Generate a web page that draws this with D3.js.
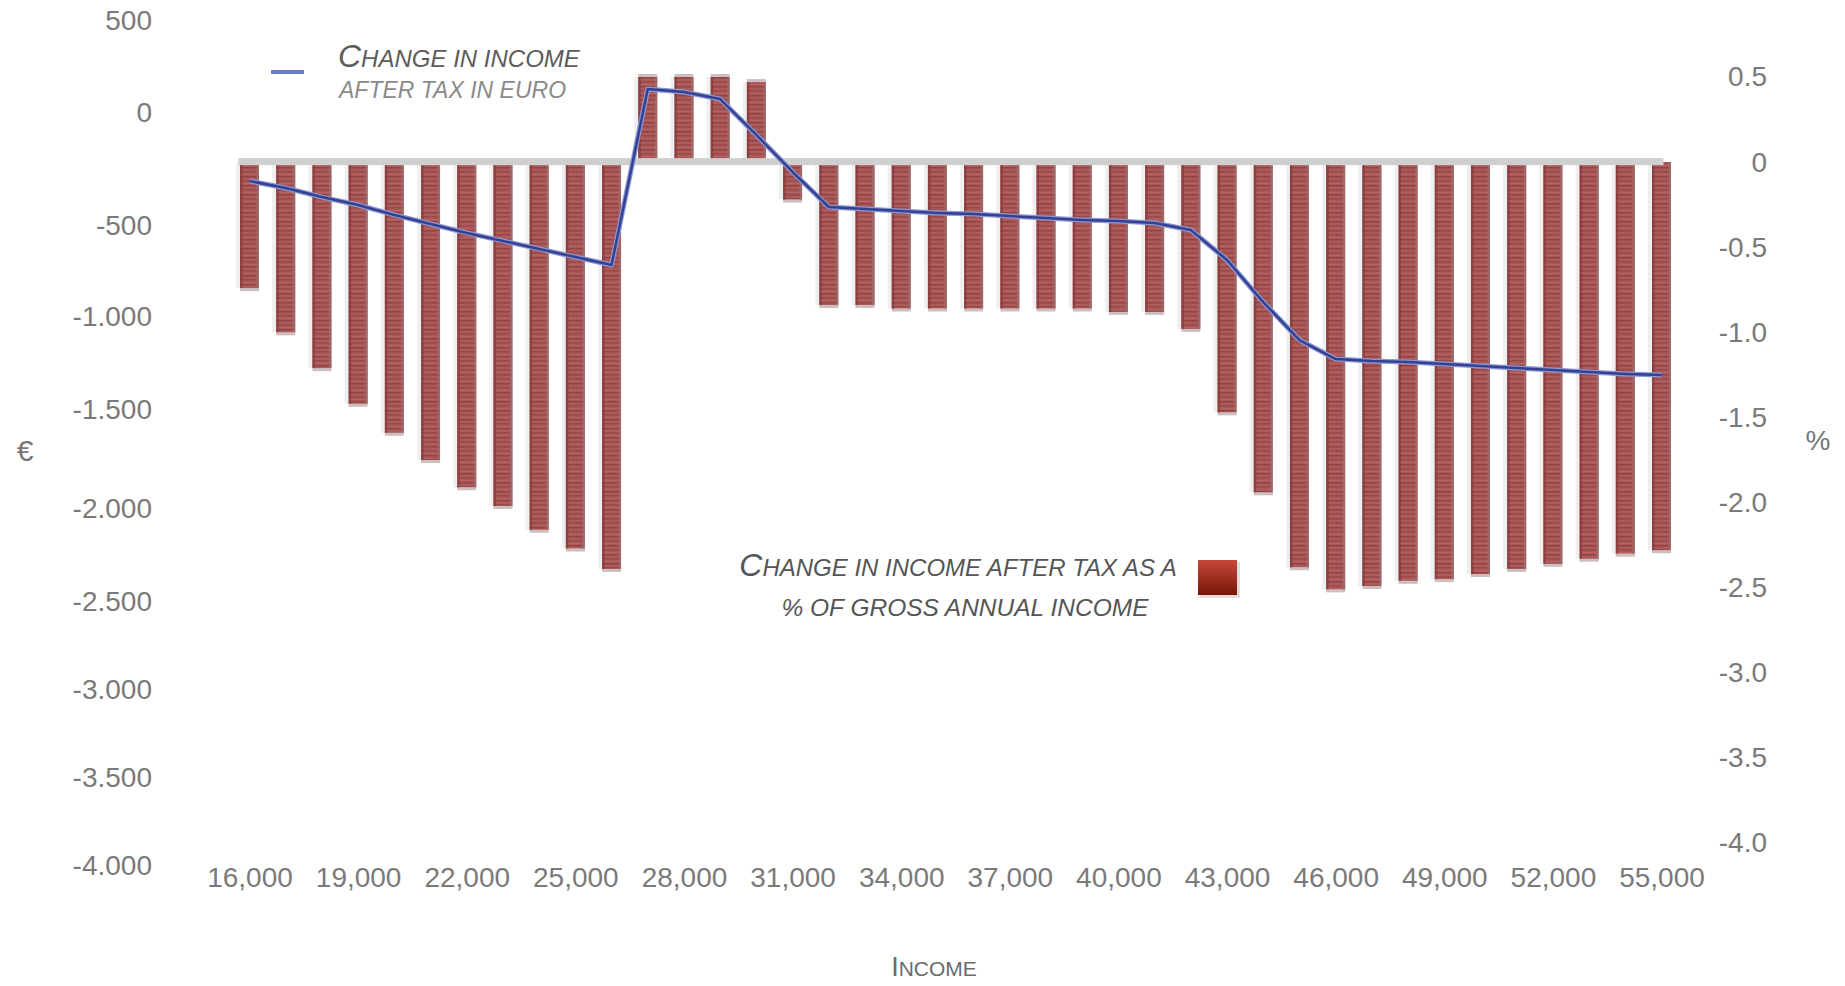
<!DOCTYPE html>
<html><head><meta charset="utf-8">
<script src="https://cdn.jsdelivr.net/npm/d3@7"></script>
<style>
html,body{margin:0;padding:0;background:#fff;}
svg{display:block;font-family:"Liberation Sans",Arial,sans-serif;}
</style></head><body>
<svg id="chart" width="1845" height="986"></svg>
<script>
// ---------------- DATA ----------------
const incomes = [16000,17000,18000,19000,20000,21000,22000,23000,24000,25000,
  26000,27000,28000,29000,30000,31000,32000,33000,34000,35000,
  36000,37000,38000,39000,40000,41000,42000,43000,44000,45000,
  46000,47000,48000,49000,50000,51000,52000,53000,54000,55000];
// change in income after tax as % of gross annual income (right axis)
const pctChange = [-0.74,-1.00,-1.21,-1.42,-1.59,-1.75,-1.91,-2.02,-2.16,-2.27,
  -2.39,0.50,0.50,0.50,0.47,-0.22,-0.84,-0.84,-0.86,-0.86,
  -0.86,-0.86,-0.86,-0.86,-0.88,-0.88,-0.98,-1.47,-1.94,-2.38,
  -2.51,-2.49,-2.46,-2.45,-2.42,-2.39,-2.36,-2.33,-2.30,-2.28];
// change in income after tax in euro (left axis)
const euroChange = [-301,-332,-372,-407,-451,-491,-538,-582,-626,-670,
  -714,130,114,76,-97,-261,-416,-425,-434,-442,
  -447,-456,-465,-473,-478,-487,-522,-687,-918,-1124,
  -1226,-1237,-1242,-1253,-1263,-1274,-1285,-1296,-1306,-1312];
const xTickLabels = [16000,19000,22000,25000,28000,31000,34000,37000,40000,43000,46000,49000,52000,55000];
const leftTicks = [500,0,-500,-1000,-1500,-2000,-2500,-3000,-3500,-4000];
const rightTicks = [0.5,0,-0.5,-1,-1.5,-2,-2.5,-3,-3.5,-4];
const lineLegend = ["C","HANGE IN INCOME","AFTER TAX IN EURO"];
const barLegend = ["C","HANGE IN INCOME AFTER TAX AS A","% OF GROSS ANNUAL INCOME"];
const axisTitles = {left:"€", right:"%", bottom:["I","NCOME"]};

// ---------------- LAYOUT ----------------
const svg = d3.select("#chart");
const leftTickY = [21,113,226,317,410,509,602,690,778,866];
const x = d3.scalePoint().domain(incomes).range([249.5,1661.5]);
const yL = d3.scaleLinear().domain(leftTicks).range(leftTickY);
const yR = d3.scaleLinear().domain([0.5,-4]).range([77,843]);
const barW = 19;
const y0 = yR(0);

const locEU = d3.formatLocale({decimal:",",thousands:".",grouping:[3],currency:["","€"],minus:"-"});
const locUS = d3.formatLocale({decimal:".",thousands:",",grouping:[3],currency:["$",""],minus:"-"});
const fmtL = locEU.format(",d");
const fmtX = locUS.format(",d");
const fmtR = v => v === 0 ? "0" : locUS.format(".1f")(v);

const defs = svg.append("defs");
const pat = defs.append("pattern").attr("id","stripes").attr("patternUnits","userSpaceOnUse")
  .attr("width",4).attr("height",9);
pat.append("rect").attr("width",4).attr("height",9).attr("fill","#ab5757");
pat.append("rect").attr("y",0).attr("width",4).attr("height",1.5).attr("fill","#9a4848");
pat.append("rect").attr("y",3).attr("width",4).attr("height",1).attr("fill","#b66262");
pat.append("rect").attr("y",5).attr("width",4).attr("height",1.5).attr("fill","#944444");
pat.append("rect").attr("y",7.5).attr("width",4).attr("height",1).attr("fill","#b05c5c");
const sw = defs.append("linearGradient").attr("id","swatch").attr("x1",0).attr("x2",0).attr("y1",0).attr("y2",1);
sw.append("stop").attr("offset","0%").attr("stop-color","#c9483a");
sw.append("stop").attr("offset","100%").attr("stop-color","#761608");

const data = incomes.map((inc,i)=>({inc, pct:pctChange[i], eur:euroChange[i]}));

// bar shadows
svg.append("g").selectAll("rect").data(data).join("rect")
  .attr("x", d=>x(d.inc)-barW/2-4).attr("width",4)
  .attr("y", d=>Math.min(yR(d.pct),y0)).attr("height", d=>Math.abs(yR(d.pct)-y0))
  .attr("fill","#efefef");
// bar end caps
svg.append("g").selectAll("rect").data(data).join("rect")
  .attr("x", d=>x(d.inc)-barW/2).attr("width",barW)
  .attr("y", d=>d.pct<0 ? yR(d.pct) : yR(d.pct)-3).attr("height",3)
  .attr("fill","#cdbfbf");
// bars
const bars = svg.append("g");
bars.selectAll("rect.bar").data(data).join("rect").attr("class","bar")
  .attr("x", d=>x(d.inc)-barW/2).attr("width",barW)
  .attr("y", d=>Math.min(yR(d.pct),y0)).attr("height", d=>Math.abs(yR(d.pct)-y0))
  .attr("fill","url(#stripes)");
bars.selectAll("rect.le").data(data).join("rect").attr("class","le")
  .attr("x", d=>x(d.inc)-barW/2).attr("width",2.5)
  .attr("y", d=>Math.min(yR(d.pct),y0)).attr("height", d=>Math.abs(yR(d.pct)-y0))
  .attr("fill","#83393a").attr("opacity",0.7);
bars.selectAll("rect.re").data(data).join("rect").attr("class","re")
  .attr("x", d=>x(d.inc)+barW/2-2.5).attr("width",2.5)
  .attr("y", d=>Math.min(yR(d.pct),y0)).attr("height", d=>Math.abs(yR(d.pct)-y0))
  .attr("fill","#9c6b6b").attr("opacity",0.8);

// zero band
svg.append("rect").attr("x", x(incomes[0])-11).attr("width", x(incomes[incomes.length-1])+2-(x(incomes[0])-11))
  .attr("y", y0-4).attr("height",7).attr("fill","#cfcfcf");

// line
const line = d3.line().x(d=>x(d.inc)).y(d=>yL(d.eur));
svg.append("path").datum(data).attr("d",line).attr("fill","none")
  .attr("stroke","#8a98d6").attr("stroke-width",5).attr("stroke-linejoin","round");
svg.append("path").datum(data).attr("d",line).attr("fill","none")
  .attr("stroke","#35418f").attr("stroke-width",2.5).attr("stroke-linejoin","round");

// axes
const tickStyle = g => {
  g.select(".domain").remove();
  g.selectAll(".tick line").remove();
  g.selectAll("text").attr("font-size",28).attr("fill","#7a7a7a")
    .attr("font-family","'Liberation Sans',Arial,sans-serif");
};
svg.append("g").attr("transform","translate(152,0)")
  .call(d3.axisLeft(yL).tickValues(leftTicks).tickFormat(fmtL).tickSize(0).tickPadding(0))
  .call(tickStyle);
svg.append("g").attr("transform","translate(1767,0)")
  .call(d3.axisRight(yR).tickValues(rightTicks).tickFormat(fmtR).tickSize(0).tickPadding(0))
  .call(tickStyle)
  .call(g=>g.selectAll("text").attr("text-anchor","end").attr("x",0));
svg.append("g").attr("transform","translate(0,877)")
  .call(d3.axisBottom(x).tickValues(xTickLabels).tickFormat(fmtX).tickSize(0).tickPadding(0))
  .call(tickStyle)
  .call(g=>g.selectAll("text").attr("dy","0.35em"));

// axis titles
svg.append("text").attr("x",25).attr("y",450).attr("dy","0.35em").attr("text-anchor","middle")
  .attr("font-size",30).attr("fill","#777").text(axisTitles.left);
svg.append("text").attr("x",1818).attr("y",440).attr("dy","0.35em").attr("text-anchor","middle")
  .attr("font-size",28).attr("fill","#777").text(axisTitles.right);
const bt = svg.append("text").attr("x",934).attr("y",976).attr("text-anchor","middle").attr("fill","#6a6a6a");
bt.append("tspan").attr("font-size",27).text(axisTitles.bottom[0]);
bt.append("tspan").attr("font-size",21).text(axisTitles.bottom[1]);

// legend 1 (line)
svg.append("line").attr("x1",271).attr("x2",304).attr("y1",72).attr("y2",72)
  .attr("stroke","#6b7bbf").attr("stroke-width",4);
const l1 = svg.append("text").attr("x",338).attr("y",67).attr("font-style","italic").attr("fill","#5c5c5c");
l1.append("tspan").attr("font-size",32).text(lineLegend[0]);
l1.append("tspan").attr("font-size",24).text(lineLegend[1]);
svg.append("text").attr("x",339).attr("y",98).attr("font-style","italic").attr("fill","#8a8a8a")
  .attr("font-size",23).text(lineLegend[2]);

// legend 2 (bars)
const l2 = svg.append("text").attr("x",958).attr("y",576).attr("text-anchor","middle").attr("font-style","italic").attr("fill","#555");
l2.append("tspan").attr("font-size",32).text(barLegend[0]);
l2.append("tspan").attr("font-size",24).text(barLegend[1]);
svg.append("text").attr("x",965).attr("y",616).attr("text-anchor","middle").attr("font-style","italic")
  .attr("fill","#555").attr("font-size",24.5).text(barLegend[2]);
svg.append("rect").attr("x",1200).attr("y",562).attr("width",40).attr("height",36).attr("fill","#e4dcdc");
svg.append("rect").attr("x",1198).attr("y",560).attr("width",39).attr("height",35).attr("fill","url(#swatch)");
</script>
</body></html>
